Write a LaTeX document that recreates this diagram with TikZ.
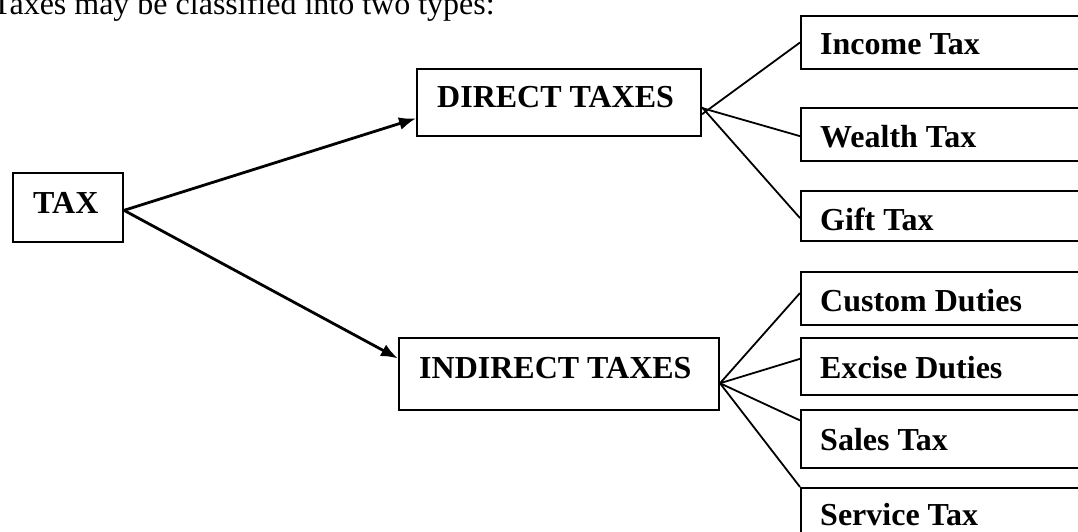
\documentclass[tikz,border=0pt]{standalone}
\usepackage{fontspec}
\setmainfont{Liberation Serif}
\usetikzlibrary{calc,arrows.meta}
\tikzset{
  box/.style={draw=black, line width=2pt, rectangle, inner sep=0pt, anchor=north west},
  lbl/.style={inner sep=0pt, anchor=base west, font=\fontsize{32}{38}\selectfont\bfseries},
  plain/.style={inner sep=0pt, anchor=base west, font=\fontsize{32}{38}\selectfont},
  link/.style={draw=black, line width=1.8pt},
  arrowlink/.style={draw=black, line width=2.8pt, -{Latex[length=17pt,width=13pt]}}
}
\begin{document}
\begin{tikzpicture}[x=1pt,y=-1pt]
\clip (0,0) rectangle (1078,532);
\fill[white] (0,0) rectangle (1078,532);
% intro text
\node[plain] (intro) at (-8,15) {Taxes may be classified into two types:};
% main boxes
\node[box, minimum width=110pt, minimum height=69pt] (tax) at (12,172) {};
\node[lbl] (taxT) at (33,213) {TAX};
\node[box, minimum width=284pt, minimum height=67pt] (dir) at (416,68) {};
\node[lbl] (dirT) at (437,108) {DIRECT TAXES};
\node[box, minimum width=320pt, minimum height=72pt] (ind) at (398,337) {};
\node[lbl] (indT) at (419,378) {INDIRECT TAXES};
% right boxes
\node[box, minimum width=300pt, minimum height=53pt] (inc) at (800,15) {};
\node[lbl] (incT) at (820,55) {Income Tax};
\node[box, minimum width=300pt, minimum height=53pt] (wea) at (800,107) {};
\node[lbl] (weaT) at (820,147) {Wealth Tax};
\node[box, minimum width=300pt, minimum height=50pt] (gif) at (800,190) {};
\node[lbl] (gifT) at (820,230) {Gift Tax};
\node[box, minimum width=300pt, minimum height=53pt] (cus) at (800,271) {};
\node[lbl] (cusT) at (820,311) {Custom Duties};
\node[box, minimum width=300pt, minimum height=57pt] (exc) at (800,337) {};
\node[lbl] (excT) at (820,378) {Excise Duties};
\node[box, minimum width=300pt, minimum height=58pt] (sal) at (800,409) {};
\node[lbl] (salT) at (820,450) {Sales Tax};
\node[box, minimum width=300pt, minimum height=70pt] (ser) at (800,487) {};
\node[lbl] (serT) at (820,525) {Service Tax};
% arrows from TAX
\draw[arrowlink] ($(tax.north east)!0.54!(tax.south east)$) -- ($(dir.north west)!0.73!(dir.south west)$);
\draw[arrowlink] ($(tax.north east)!0.54!(tax.south east)$) -- ($(ind.north west)!0.29!(ind.south west)$);
% direct branches
\draw[link] ($(dir.north east)!0.67!(dir.south east)$) -- (inc.west);
\draw[link] ($(dir.north east)!0.58!(dir.south east)$) -- ($(wea.north west)!0.53!(wea.south west)$);
\draw[link] ($(dir.north east)!0.57!(dir.south east)$) -- ($(gif.north west)!0.54!(gif.south west)$);
% indirect branches
\draw[link] ($(ind.north east)!0.625!(ind.south east)$) -- ($(cus.north west)!0.40!(cus.south west)$);
\draw[link] ($(ind.north east)!0.625!(ind.south east)$) -- ($(exc.north west)!0.37!(exc.south west)$);
\draw[link] ($(ind.north east)!0.625!(ind.south east)$) -- ($(sal.north west)!0.19!(sal.south west)$);
\draw[link] ($(ind.north east)!0.625!(ind.south east)$) -- (ser.north west);
\end{tikzpicture}
\end{document}
